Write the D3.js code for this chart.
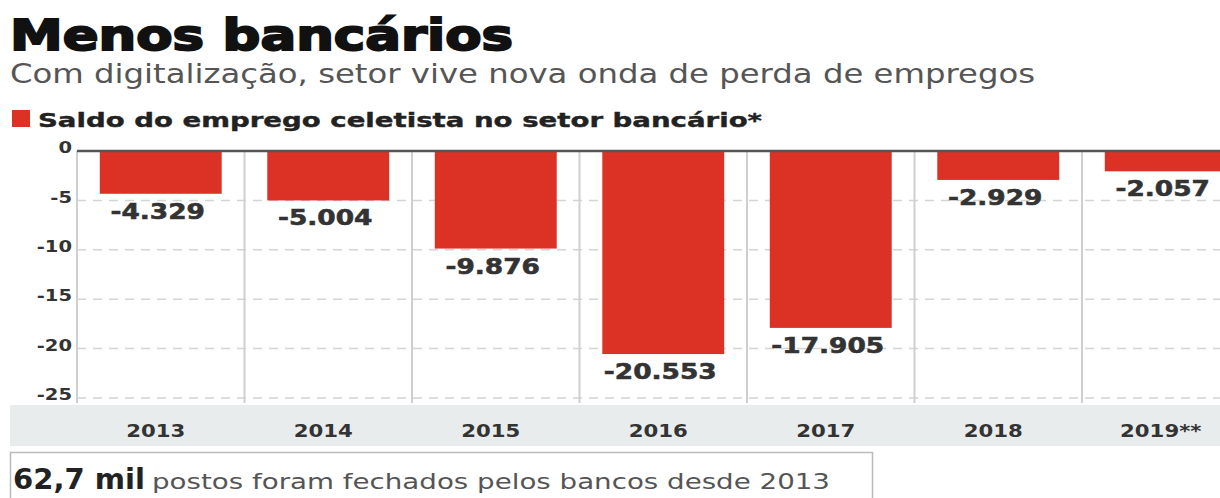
<!DOCTYPE html>
<html lang="pt">
  <head>
    <meta charset="utf-8" />
    <script src="https://d3js.org/d3.v7.min.js"></script>
    <style>
      body {
        margin: 0;
        background: #fff;
      }
      svg {
        display: block;
      }
    </style>
  </head>
  <body>
    <svg width="1220" height="498"></svg>
    <script>
      // dados (milhares de postos)
      var years = ["2013", "2014", "2015", "2016", "2017", "2018", "2019**"];
      var values = [-4.329, -5.004, -9.876, -20.553, -17.905, -2.929, -2.057];
      var valueLabels = ["-4.329", "-5.004", "-9.876", "-20.553", "-17.905", "-2.929", "-2.057"];
      var yTicks = [0, -5, -10, -15, -20, -25];

      var svg = d3.select("svg");
      var data = years.map(function (y, i) {
        return { year: y, value: values[i], label: valueLabels[i] };
      });

      var left = 77;
      var step = 167.5;
      var x = d3
        .scaleBand()
        .domain(years)
        .range([left, left + step * years.length])
        .padding(0);
      var barW = x.bandwidth() * 0.728;

      var y = d3.scaleLinear().domain([-25, 0]).range([398, 151]);

      // alarga o texto na horizontal (fonte do original e mais larga)
      function stretch(sel, k) {
        sel.each(function () {
          var w = this.getComputedTextLength();
          d3.select(this)
            .attr("textLength", w * k)
            .attr("lengthAdjust", "spacingAndGlyphs");
        });
      }

      // titulo
      svg
        .append("text")
        .attr("x", 10)
        .attr("y", 50)
        .attr("font-family", "DejaVu Sans")
        .attr("font-weight", "bold")
        .attr("font-size", "43px")
        .attr("fill", "#111")
        .attr("stroke", "#111")
        .attr("stroke-width", 2)
        .attr("textLength", 503)
        .attr("lengthAdjust", "spacingAndGlyphs")
        .text("Menos bancários");

      svg
        .append("text")
        .attr("x", 10)
        .attr("y", 83)
        .attr("font-family", "DejaVu Sans")
        .attr("font-size", "27px")
        .attr("fill", "#555")
        .attr("textLength", 1025)
        .attr("lengthAdjust", "spacingAndGlyphs")
        .text("Com digitalização, setor vive nova onda de perda de empregos");

      // legenda
      svg
        .append("rect")
        .attr("x", 12)
        .attr("y", 110)
        .attr("width", 18)
        .attr("height", 17)
        .attr("fill", "#dc3226");

      svg
        .append("text")
        .attr("x", 38)
        .attr("y", 127)
        .attr("font-family", "DejaVu Sans")
        .attr("font-weight", "bold")
        .attr("font-size", "20px")
        .attr("fill", "#222")
        .attr("stroke", "#222")
        .attr("stroke-width", 0.4)
        .attr("textLength", 724)
        .attr("lengthAdjust", "spacingAndGlyphs")
        .text("Saldo do emprego celetista no setor bancário*");

      // grade
      var grid = svg.append("g");
      grid
        .selectAll("line.h")
        .data(yTicks.slice(1))
        .enter()
        .append("line")
        .attr("class", "h")
        .attr("x1", left)
        .attr("x2", 1220)
        .attr("y1", function (d) {
          return y(d);
        })
        .attr("y2", function (d) {
          return y(d);
        })
        .attr("stroke", "#d4d4d4")
        .attr("stroke-width", 1.5)
        .attr("stroke-dasharray", "9,7");

      grid
        .selectAll("line.v")
        .data(years)
        .enter()
        .append("line")
        .attr("class", "v")
        .attr("x1", function (d) {
          return x(d);
        })
        .attr("x2", function (d) {
          return x(d);
        })
        .attr("y1", y(0))
        .attr("y2", 403)
        .attr("stroke", "#cfcfcf")
        .attr("stroke-width", 2);

      // eixo y
      svg
        .append("g")
        .selectAll("text")
        .data(yTicks)
        .enter()
        .append("text")
        .attr("x", 72)
        .attr("y", function (d) {
          return y(d);
        })
        .attr("dy", "0.15em")
        .attr("text-anchor", "end")
        .attr("font-family", "DejaVu Sans")
        .attr("font-weight", "bold")
        .attr("font-size", "15px")
        .attr("fill", "#333")
        .text(function (d) {
          return d;
        })
        .call(stretch, 1.3);

      // barras
      svg
        .append("g")
        .selectAll("rect")
        .data(data)
        .enter()
        .append("rect")
        .attr("x", function (d) {
          return x(d.year) + (x.bandwidth() - barW) / 2;
        })
        .attr("y", y(0))
        .attr("width", barW)
        .attr("height", function (d) {
          return y(d.value) - y(0);
        })
        .attr("fill", "#dc3226");

      // linha do zero
      svg
        .append("line")
        .attr("x1", left)
        .attr("x2", 1220)
        .attr("y1", y(0))
        .attr("y2", y(0))
        .attr("stroke", "#555")
        .attr("stroke-width", 2.5);

      // rotulos
      svg
        .append("g")
        .selectAll("text")
        .data(data)
        .enter()
        .append("text")
        .attr("x", function (d) {
          return x(d.year) + x.bandwidth() / 2 - 3;
        })
        .attr("y", function (d) {
          return y(d.value) + 25;
        })
        .attr("text-anchor", "middle")
        .attr("font-family", "DejaVu Sans")
        .attr("font-weight", "bold")
        .attr("font-size", "22px")
        .attr("fill", "#333")
        .attr("stroke", "#333")
        .attr("stroke-width", 0.6)
        .text(function (d) {
          return d.label;
        })
        .call(stretch, 1.2);

      // faixa do eixo x
      svg
        .append("rect")
        .attr("x", 10)
        .attr("y", 405)
        .attr("width", 1210)
        .attr("height", 41)
        .attr("fill", "#e8ecec");

      svg
        .append("g")
        .selectAll("text")
        .data(years)
        .enter()
        .append("text")
        .attr("x", function (d) {
          return x(d) + x.bandwidth() / 2 - 5;
        })
        .attr("y", 437)
        .attr("text-anchor", "middle")
        .attr("font-family", "DejaVu Sans")
        .attr("font-weight", "bold")
        .attr("font-size", "18px")
        .attr("fill", "#333")
        .text(function (d) {
          return d;
        })
        .call(stretch, 1.18);

      // caixa de destaque
      svg
        .append("rect")
        .attr("x", 10.5)
        .attr("y", 452.5)
        .attr("width", 862)
        .attr("height", 60)
        .attr("fill", "#fff")
        .attr("stroke", "#bbb")
        .attr("stroke-width", 1.5);

      svg
        .append("text")
        .attr("x", 13)
        .attr("y", 489)
        .attr("font-family", "DejaVu Sans")
        .attr("font-weight", "bold")
        .attr("font-size", "29px")
        .attr("fill", "#222")
        .attr("textLength", 132)
        .attr("lengthAdjust", "spacingAndGlyphs")
        .text("62,7 mil");

      svg
        .append("text")
        .attr("x", 152)
        .attr("y", 489)
        .attr("font-family", "DejaVu Sans")
        .attr("font-size", "22px")
        .attr("fill", "#555")
        .attr("textLength", 678)
        .attr("lengthAdjust", "spacingAndGlyphs")
        .text("postos foram fechados pelos bancos desde 2013");
    </script>
  </body>
</html>
